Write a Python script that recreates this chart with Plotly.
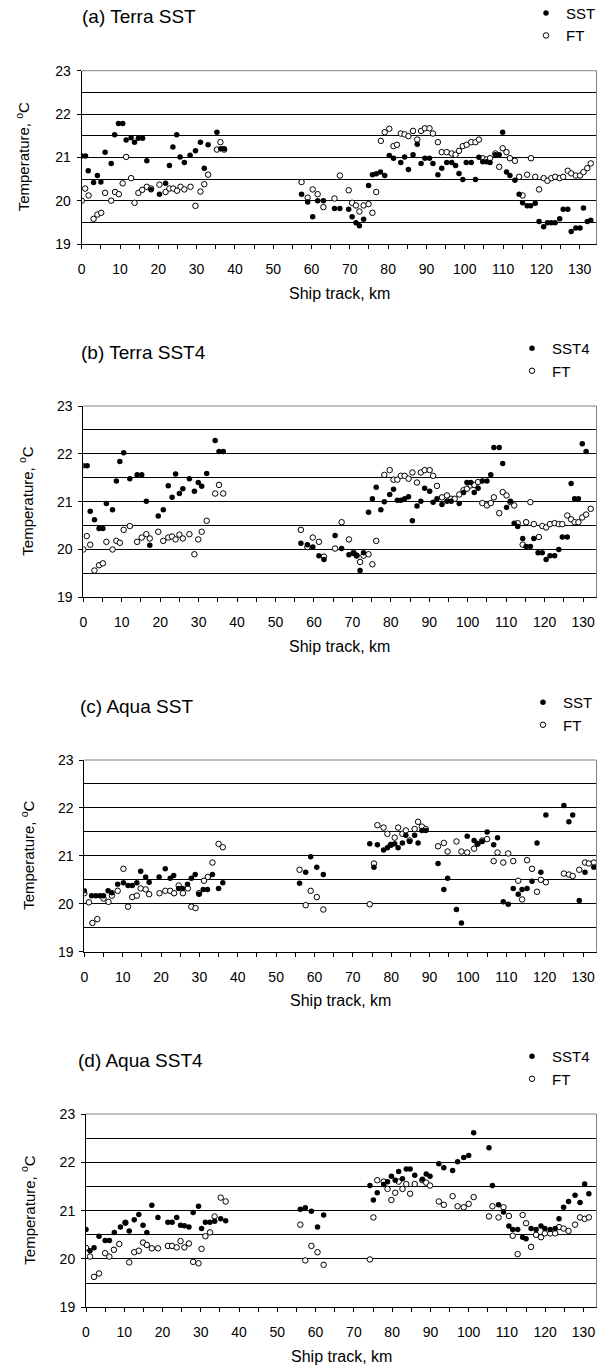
import plotly.graph_objects as go

# ---------------- data ----------------
# Panel (a) Terra SST
a_sst_km = [0, 1.0, 1.7, 3.1, 4.1, 5.0, 6.1, 7.7, 8.6, 9.6, 10.7, 11.6, 12.9, 13.8, 14.8, 15.9, 17.0, 18.1,
            20.3, 21.9, 22.9, 23.8, 24.8, 25.7, 26.8, 28.3, 29.7, 31.0, 32.0, 33.0, 35.3, 36.3, 37.2,
            57.4, 59.0, 60.3, 61.6, 63.1, 66.0, 67.4, 69.7, 70.6, 71.6, 72.5, 73.6, 74.9, 75.9, 76.9, 78.0,
            79.1, 80.3, 81.4, 83.3, 84.3, 85.3, 86.5, 87.6, 88.6, 89.6, 90.8, 91.7, 93.0, 94.0, 95.3, 96.6,
            97.6, 98.5, 99.5, 100.4, 101.7, 102.8, 103.7, 104.7, 105.7, 106.6, 108.0, 109.0, 109.9, 110.9,
            111.8, 113.1, 114.2, 115.1, 116.3, 117.2, 118.4, 119.4, 120.6, 121.6, 122.6, 123.6, 124.8, 125.7,
            126.9, 127.8, 129.0, 130.1, 131.0, 132.0, 132.9]
a_sst = [21.03, 21.03, 20.69, 20.42, 20.58, 20.43, 21.12, 20.86, 21.52, 21.78, 21.78, 21.40, 21.45, 21.35,
         21.44, 21.44, 20.92, 20.25, 20.15, 20.40, 20.81, 21.24, 21.52, 21.01, 20.88, 21.05, 21.15, 21.35,
         20.75, 21.29, 21.58, 21.20, 21.20,
         20.15, 19.97, 19.63, 20.00, 20.00, 19.82, 19.82, 19.80, 19.63, 19.49, 19.42, 19.57, 20.35, 20.60,
         20.62, 20.66, 20.58, 21.04, 20.98, 20.88, 21.01, 20.72, 21.06, 21.30, 20.86, 20.98, 20.98, 20.86,
         20.60, 20.75, 20.88, 20.88, 20.81, 20.63, 20.49, 20.88, 20.88, 20.49, 21.00, 20.90, 20.90, 20.88,
         21.06, 21.06, 21.58, 20.66, 20.58, 20.47, 20.15, 19.95, 19.88, 19.88, 19.94, 19.52, 19.40, 19.49,
         19.49, 19.49, 19.58, 19.80, 19.80, 19.29, 19.37, 19.37, 19.83, 19.52, 19.55]
a_ft_km = [0, 0.9, 1.8, 3.1, 4.1, 5.1, 6.1, 7.7, 8.7, 9.7, 10.7, 11.6, 12.9, 13.8, 14.8, 15.8, 17.0, 18.1,
           20.3, 21.9, 22.9, 23.9, 24.9, 25.8, 26.8, 28.4, 29.7, 31.0, 32.0, 33.0, 35.3, 36.2, 37.2,
           57.4, 59.0, 60.3, 61.6, 63.1, 66.0, 67.4, 69.7, 70.6, 71.6, 72.5, 73.6, 74.9, 75.9, 76.9, 78.1,
           79.1, 80.3, 81.4, 82.3, 83.3, 84.3, 85.3, 86.5, 87.6, 88.6, 89.6, 90.8, 91.7, 93.0, 94.0, 95.3,
           96.6, 97.6, 98.5, 99.5, 100.5, 101.7, 102.8, 103.7, 104.7, 105.7, 106.6, 108.0, 109.0, 109.9,
           110.9, 111.8, 113.1, 114.2, 115.1, 116.3, 117.3, 118.4, 119.4, 120.6, 121.6, 122.6, 123.6, 124.8,
           125.7, 126.9, 127.8, 129.0, 130.1, 131.0, 132.0, 132.9]
a_ft = [20.00, 20.28, 20.12, 19.58, 19.68, 19.72, 20.18, 20.00, 20.20, 20.15, 20.40, 21.01, 20.52, 19.95,
        20.18, 20.25, 20.32, 20.28, 20.37, 20.20, 20.28, 20.28, 20.23, 20.32, 20.26, 20.32, 19.88, 20.21,
        20.38, 20.60, 21.18, 21.35, 21.18,
        20.43, 20.07, 20.26, 20.15, 19.85, 20.05, 20.58, 20.24, 19.95, 19.89, 19.75, 19.89, 19.92, 19.72,
        20.20, 21.38, 21.58, 21.66, 21.26, 21.29, 21.55, 21.53, 21.49, 21.61, 21.41, 21.61, 21.67, 21.67,
        21.55, 21.35, 21.12, 21.12, 21.09, 21.06, 21.15, 21.26, 21.29, 21.35, 21.35, 21.41, 20.98, 20.95,
        20.98, 21.09, 20.78, 21.21, 21.12, 20.98, 20.92, 20.55, 20.12, 20.60, 20.98, 20.55, 20.26, 20.52,
        20.46, 20.52, 20.55, 20.52, 20.55, 20.69, 20.63, 20.58, 20.58, 20.66, 20.75, 20.86]

# Panel (b) Terra SST4
b_sst_km = [0, 1.0, 1.8, 2.9, 4.1, 5.1, 6.0, 7.6, 8.6, 9.5, 10.5, 12.1, 14.0, 15.2, 16.4, 17.3, 19.5, 20.8,
            22.1, 23.1, 24.0, 25.0, 25.9, 27.6, 28.9, 29.9, 30.8, 32.1, 34.3, 35.3, 36.4,
            56.6, 58.3, 59.7, 61.3, 62.6, 65.5, 67.2, 69.1, 70.3, 71.1, 72.0, 72.9, 74.2, 75.2, 76.2, 77.4,
            78.3, 79.7, 80.7, 81.7, 82.6, 83.6, 84.6, 85.6, 86.8, 87.8, 88.8, 90.1, 91.0, 92.0, 93.3, 94.6,
            95.7, 97.8, 98.9, 99.8, 100.8, 101.7, 102.7, 103.8, 105.0, 106.0, 106.8, 108.2, 109.1, 110.1,
            111.1, 112.1, 113.0, 114.3, 115.2, 116.3, 117.2, 118.3, 119.4, 120.4, 121.4, 122.6, 123.7, 124.6,
            125.9, 126.9, 127.8, 128.8, 129.8, 130.8]
b_sst = [21.75, 21.75, 20.80, 20.62, 20.44, 20.44, 20.96, 20.83, 21.43, 21.84, 22.02, 21.48, 21.56, 21.56,
         21.01, 20.09, 20.70, 20.83, 21.33, 21.09, 21.58, 21.17, 21.27, 21.48, 21.22, 21.40, 21.32, 21.59,
         22.28, 22.05, 22.05,
         20.13, 20.10, 20.05, 19.87, 19.79, 20.29, 20.02, 19.89, 19.92, 19.88, 19.56, 19.93, 20.78, 21.06,
         21.30, 20.83, 21.00, 21.15, 21.26, 21.03, 21.03, 21.06, 21.10, 20.60, 20.91, 21.01, 21.28, 21.22,
         20.99, 21.06, 20.94, 21.01, 21.01, 20.96, 21.19, 21.40, 21.40, 21.19, 21.28, 21.43, 21.43, 21.56,
         22.13, 22.13, 21.80, 20.88, 21.01, 20.55, 20.48, 20.23, 20.06, 20.06, 20.23, 19.93, 19.93, 19.79,
         19.87, 19.87, 20.00, 20.26, 20.26, 21.38, 21.06, 21.06, 22.21, 22.05]
b_ft_km = [0, 0.9, 1.8, 2.9, 4.1, 5.1, 6.0, 7.6, 8.6, 9.5, 10.5, 12.1, 14.0, 15.2, 16.4, 17.3, 19.5, 20.8,
           22.1, 23.1, 24.0, 25.0, 25.9, 27.6, 28.9, 29.9, 30.8, 32.1, 34.3, 35.3, 36.4,
           56.6, 58.3, 59.7, 61.3, 62.6, 65.5, 67.2, 69.1, 70.3, 71.1, 72.0, 72.9, 74.2, 75.2, 76.2, 78.3,
           79.7, 80.7, 81.7, 82.6, 83.6, 84.6, 85.6, 86.8, 87.8, 88.8, 90.1, 91.0, 92.0, 93.3, 94.6, 95.7,
           96.6, 97.8, 98.9, 99.8, 100.8, 101.7, 102.7, 103.8, 105.0, 106.0, 106.8, 108.2, 109.1, 110.1,
           111.1, 112.1, 113.0, 114.3, 115.2, 116.3, 117.2, 118.5, 119.4, 120.4, 121.4, 122.6, 123.7, 124.6,
           125.9, 126.9, 127.8, 128.8, 129.8, 130.8, 132.0]
b_ft = [20.00, 20.28, 20.10, 19.56, 19.67, 19.71, 20.16, 20.00, 20.18, 20.14, 20.41, 20.49, 20.16, 20.25,
        20.32, 20.23, 20.37, 20.18, 20.25, 20.27, 20.21, 20.31, 20.23, 20.32, 19.90, 20.21, 20.37, 20.60,
        21.17, 21.35, 21.17,
        20.41, 20.05, 20.25, 20.16, 19.85, 20.02, 20.57, 20.21, 19.93, 19.87, 19.74, 19.87, 19.90, 19.69,
        20.18, 21.56, 21.66, 21.46, 21.46, 21.54, 21.54, 21.48, 21.61, 21.40, 21.61, 21.66, 21.66, 21.54,
        21.33, 21.09, 21.13, 21.06, 21.06, 21.15, 21.24, 21.27, 21.34, 21.35, 21.41, 20.97, 20.92, 20.97,
        21.09, 20.76, 21.20, 21.13, 20.99, 20.92, 20.55, 20.10, 20.57, 20.99, 20.53, 20.26, 20.49, 20.46,
        20.53, 20.55, 20.53, 20.53, 20.71, 20.63, 20.57, 20.57, 20.67, 20.73, 20.85]

# Panel (c) Aqua SST
c_sst_km = [0, 1.9, 3.0, 4.1, 5.0, 6.2, 7.2, 8.7, 10.2, 11.4, 12.5, 13.7, 14.7, 16.0, 16.9, 19.5, 21.1, 22.4,
            23.3, 24.6, 25.6, 26.9, 27.9, 28.9, 29.9, 31.0, 32.1, 33.4, 35.0, 36.1,
            56.1, 57.7, 59.0, 60.6, 62.3, 74.4, 75.5, 76.4, 78.0, 79.0, 79.9, 80.9, 81.8, 82.9, 83.8, 84.8,
            86.1, 87.0, 88.0, 89.0, 92.2, 93.7, 94.7, 97.0, 98.3, 99.8, 101.6, 102.5, 103.7, 105.0, 106.7,
            107.7, 109.2, 110.5, 111.8, 113.1, 114.1, 115.4, 116.7, 118.0, 119.0, 120.3, 125.0, 126.3, 127.3,
            129.0, 130.5, 132.8]
c_sst = [20.27, 20.17, 20.17, 20.17, 20.17, 20.27, 20.23, 20.41, 20.44, 20.38, 20.38, 20.44, 20.68, 20.56,
         20.45, 20.56, 20.73, 20.53, 20.59, 20.32, 20.32, 20.41, 20.53, 20.61, 20.20, 20.30, 20.30, 20.61,
         20.32, 20.44,
         20.43, 20.66, 20.98, 20.76, 20.61, 21.25, 20.76, 21.23, 21.12, 21.17, 21.23, 21.25, 21.17, 21.27,
         21.43, 21.30, 21.43, 21.27, 21.53, 21.53, 20.84, 20.30, 20.53, 19.88, 19.60, 21.41, 21.32, 21.25,
         21.30, 21.50, 21.23, 21.38, 20.04, 19.99, 20.32, 20.20, 20.30, 20.32, 20.47, 21.27, 20.66, 21.85,
         22.05, 21.71, 21.85, 20.07, 20.66, 20.76]
c_ft_km = [0, 1.2, 2.1, 3.4, 5.0, 6.3, 7.2, 8.7, 10.2, 11.4, 12.5, 13.7, 14.7, 16.0, 16.9, 19.6, 21.1, 22.4,
           23.4, 24.6, 25.7, 27.0, 27.9, 29.0, 29.9, 31.2, 32.2, 33.4, 35.0, 36.1,
           56.1, 57.7, 59.0, 60.6, 62.3, 74.4, 75.5, 76.4, 78.0, 79.0, 79.9, 80.9, 81.8, 82.9, 83.8, 84.8,
           86.1, 87.0, 88.0, 89.0, 92.2, 93.7, 94.7, 97.0, 98.3, 99.8, 101.6, 102.5, 103.7, 105.0, 106.7,
           107.7, 109.2, 110.5, 111.8, 113.1, 114.1, 115.4, 116.7, 118.0, 119.0, 120.3, 125.0, 126.3, 127.3,
           129.0, 130.5, 131.5, 132.8]
c_ft = [20.22, 20.03, 19.60, 19.68, 20.11, 20.04, 20.17, 20.27, 20.73, 19.94, 20.14, 20.17, 20.32, 20.30,
        20.20, 20.22, 20.27, 20.27, 20.22, 20.38, 20.22, 20.32, 19.94, 19.91, 20.22, 20.48, 20.56, 20.86,
        21.25, 21.18,
        20.71, 19.97, 20.27, 20.14, 19.88, 19.99, 20.84, 21.64, 21.59, 21.46, 21.23, 21.38, 21.59, 21.46,
        21.53, 21.32, 21.56, 21.71, 21.61, 21.56, 21.20, 21.27, 21.09, 21.30, 21.09, 21.07, 21.15, 21.25,
        21.32, 21.35, 20.89, 21.07, 20.86, 21.05, 20.89, 20.48, 20.09, 20.91, 20.73, 20.25, 20.50, 20.45,
        20.63, 20.61, 20.58, 20.71, 20.86, 20.84, 20.86]

# Panel (d) Aqua SST4
d_sst_km = [0, 1.05, 2.1, 3.4, 5.0, 6.1, 7.4, 9.0, 10.3, 11.3, 12.6, 13.8, 14.9, 15.9, 17.2, 18.8, 21.4, 22.5,
            23.7, 24.7, 25.7, 26.9, 28.0, 29.4, 30.2, 31.2, 32.4, 33.6, 35.2, 36.5,
            56.0, 57.3, 58.9, 60.5, 62.1, 74.2, 75.1, 76.1, 77.8, 78.8, 79.8, 80.8, 81.7, 82.7, 83.7, 84.7,
            85.9, 87.9, 88.9, 89.9, 92.2, 93.5, 95.8, 97.1, 98.7, 100.0, 101.3, 105.3, 106.2, 107.8, 109.1,
            110.5, 111.5, 112.8, 114.1, 115.0, 116.3, 117.6, 118.9, 119.9, 121.3, 122.6, 123.6, 124.8, 126.1,
            127.8, 129.1, 130.3, 131.4]
d_sst = [20.61, 20.17, 20.23, 20.47, 20.38, 20.38, 20.55, 20.66, 20.75, 20.58, 20.81, 20.92, 20.70, 20.55,
         21.11, 20.86, 20.76, 20.76, 20.86, 20.70, 20.69, 20.66, 20.96, 21.09, 20.63, 20.76, 20.76, 20.78,
         20.83, 20.79,
         21.03, 21.06, 20.99, 20.66, 20.91, 21.52, 21.22, 21.37, 21.54, 21.60, 21.71, 21.63, 21.81, 21.66,
         21.86, 21.86, 21.73, 21.65, 21.76, 21.71, 21.97, 21.89, 21.83, 22.01, 22.10, 22.14, 22.61, 22.30,
         21.52, 21.12, 20.97, 20.68, 20.61, 20.61, 20.45, 20.42, 20.63, 20.61, 20.68, 20.63, 20.61, 20.63,
         20.83, 21.07, 21.19, 21.32, 21.17, 21.55, 21.35]
d_ft_km = [0, 1.05, 2.1, 3.4, 5.0, 6.1, 7.3, 8.7, 10.3, 11.3, 12.6, 13.8, 14.9, 15.9, 17.2, 18.8, 21.4, 22.5,
           23.7, 24.7, 25.7, 26.9, 28.0, 29.4, 30.2, 31.2, 32.4, 33.6, 35.2, 36.5,
           56.0, 57.3, 58.9, 60.5, 62.1, 74.2, 75.1, 76.1, 77.8, 78.8, 79.8, 80.8, 81.7, 82.7, 83.7, 84.7,
           85.9, 87.9, 88.9, 89.9, 92.2, 93.5, 95.8, 97.1, 98.7, 100.0, 101.3, 105.3, 106.2, 107.8, 109.1,
           110.5, 111.5, 112.8, 114.1, 115.0, 116.3, 117.6, 118.9, 119.9, 121.3, 122.6, 123.6, 124.8, 126.1,
           127.8, 129.1, 130.3, 131.4]
d_ft = [20.23, 20.05, 19.63, 19.70, 20.12, 20.05, 20.19, 20.31, 20.75, 19.93, 20.14, 20.17, 20.34, 20.29,
        20.22, 20.22, 20.27, 20.27, 20.24, 20.37, 20.24, 20.32, 19.94, 19.91, 20.21, 20.47, 20.55, 20.88,
        21.27, 21.19,
        20.71, 19.97, 20.27, 20.14, 19.88, 19.99, 20.86, 21.63, 21.60, 21.45, 21.22, 21.37, 21.60, 21.45,
        21.55, 21.35, 21.55, 21.63, 21.58, 21.52, 21.19, 21.12, 21.30, 21.09, 21.07, 21.14, 21.28, 20.88,
        21.09, 20.86, 21.07, 20.89, 20.48, 20.10, 20.91, 20.74, 20.25, 20.50, 20.45, 20.53, 20.53, 20.53,
        20.66, 20.63, 20.58, 20.71, 20.86, 20.83, 20.86]

panel_titles = ["(a) Terra SST", "(b) Terra SST4", "(c) Aqua SST", "(d) Aqua SST4"]
sat_names = ["SST", "SST4", "SST", "SST4"]
ft_name = "FT"
x_title = "Ship track, km"
y_title = "Temperature, <sup>o</sup>C"
y_range = [19, 23]

# ---------------- layout geometry (page pixels) ----------------
W, H = 597, 1368
FONT = "Arial, 'Liberation Sans', sans-serif"
RIGHT = 596.5


def fx_(p):
    return p / W


def fy_(p):
    return 1 - p / H


geom = [
    dict(left=81.7, top=70.7, bottom=244.0, xmax=134.4, ytx=22, tl=80, leg=526),
    dict(left=83.3, top=406.0, bottom=597.3, xmax=133.5, ytx=26, tl=79, leg=512),
    dict(left=84.3, top=760.0, bottom=951.7, xmax=133.5, ytx=28, tl=78, leg=523),
    dict(left=86.0, top=1114.0, bottom=1307.3, xmax=133.4, ytx=28, tl=76, leg=512),
]
series = [(a_sst_km, a_sst, a_ft_km, a_ft), (b_sst_km, b_sst, b_ft_km, b_ft),
          (c_sst_km, c_sst, c_ft_km, c_ft), (d_sst_km, d_sst, d_ft_km, d_ft)]

fig = go.Figure()
layout = dict(width=W, height=H, margin=dict(l=0, r=0, t=0, b=0, pad=0, autoexpand=False),
              paper_bgcolor="white", plot_bgcolor="white",
              font=dict(family=FONT, size=14, color="black"), annotations=[], shapes=[])

for i in range(4):
    g = geom[i]
    n = "" if i == 0 else str(i + 1)
    xa, ya = "x" + n, "y" + n
    lg = "legend" + n
    sx, sy, fx, fy = series[i]
    fig.add_trace(go.Scatter(x=fx, y=fy, mode="markers", name=ft_name, xaxis=xa, yaxis=ya,
                             legend=lg, legendgroup=f"ft{i}", legendrank=2,
                             marker=dict(symbol="circle", size=5.5, color="white",
                                         line=dict(color="black", width=1)),
                             hoverinfo="skip"))
    fig.add_trace(go.Scatter(x=sx, y=sy, mode="markers", name=sat_names[i], xaxis=xa, yaxis=ya,
                             legend=lg, legendgroup=f"sst{i}", legendrank=1,
                             marker=dict(symbol="circle", size=5.5, color="black",
                                         line=dict(color="black", width=0)),
                             hoverinfo="skip"))
    layout["xaxis" + n] = dict(domain=[fx_(g["left"]), fx_(RIGHT)], range=[0, g["xmax"]], anchor=ya,
                               tickmode="linear", tick0=0, dtick=10, ticks="outside", ticklen=4,
                               tickcolor="black", showline=True, linecolor="black", linewidth=1,
                               showgrid=False, zeroline=False, tickfont=dict(size=14),
                               ticklabelstandoff=8, automargin=False,
                               minor=dict(dtick=5, tick0=0, ticks="outside", ticklen=4,
                                          tickcolor="black", showgrid=False))
    layout["yaxis" + n] = dict(domain=[fy_(g["bottom"]), fy_(g["top"])], range=y_range, anchor=xa,
                               tickmode="linear", tick0=19, dtick=1, ticks="outside", ticklen=4,
                               tickcolor="black", showline=True, linecolor="black", linewidth=1,
                               showgrid=True, gridcolor="black", gridwidth=1, zeroline=False,
                               tickfont=dict(size=14), ticklabelstandoff=3, automargin=False,
                               minor=dict(dtick=0.5, tick0=19, showgrid=True, gridcolor="black",
                                          gridwidth=1, ticks=""))
    layout[lg] = dict(x=fx_(g["leg"]), y=fy_(g["top"] - 74), xanchor="left", yanchor="top",
                      bgcolor="rgba(0,0,0,0)", borderwidth=0, font=dict(size=15),
                      itemwidth=30, tracegroupgap=11, traceorder="normal")
    # panel title
    layout["annotations"].append(dict(text=panel_titles[i], x=fx_(g["tl"]), y=fy_(g["top"] - 54),
                                      xref="paper", yref="paper", xanchor="left", yanchor="middle",
                                      showarrow=False, font=dict(size=19)))
    # x axis title
    layout["annotations"].append(dict(text=x_title, x=fx_((g["left"] + RIGHT) / 2),
                                      y=fy_(g["bottom"] + 49), xref="paper", yref="paper",
                                      xanchor="center", yanchor="middle", showarrow=False,
                                      font=dict(size=16)))
    # y axis title
    layout["annotations"].append(dict(text=y_title, x=fx_(g["ytx"]),
                                      y=fy_((g["top"] + g["bottom"]) / 2), xref="paper",
                                      yref="paper", xanchor="center", yanchor="middle",
                                      textangle=-90, showarrow=False, font=dict(size=15)))
    # top and right border of plot area
    layout["shapes"].append(dict(type="line", xref=xa + " domain", yref=ya + " domain",
                                 x0=1, x1=1, y0=0, y1=1, line=dict(color="#808080", width=1)))
    layout["shapes"].append(dict(type="line", xref=xa + " domain", yref=ya + " domain",
                                 x0=0, x1=1, y0=1, y1=1, line=dict(color="#808080", width=1)))

fig.update_layout(**layout)
fig.write_html("out.html", config={"displayModeBar": False},
               post_script="document.body.style.margin='0';document.body.style.overflow='hidden';")
